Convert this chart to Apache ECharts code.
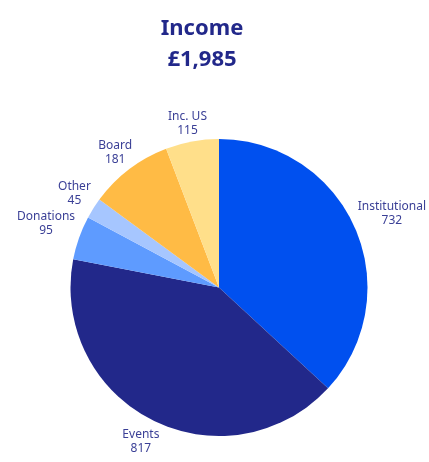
<!DOCTYPE html>
<html><head><meta charset="utf-8">
<script src="https://cdn.jsdelivr.net/npm/echarts@6/dist/echarts.min.js"></script>
<style>html,body{margin:0;padding:0;background:#fff}#c{width:429px;height:462px}</style>
</head><body><div id="c"></div>
<script>
const categories = ['Institutional', 'Events', 'Donations', 'Other', 'Board', 'Inc. US'];
const values = [732, 817, 95, 45, 181, 115];
const sliceColors = ['#0050EF', '#22288A', '#5E9BFF', '#A6C6FF', '#FFBB45', '#FFDF8A'];
const titleLines = ['Income', '£1,985'];

const chart = echarts.init(document.getElementById('c'), null, {renderer: 'canvas'});
const data = categories.map((c, i) => ({name: c, value: values[i], itemStyle: {color: sliceColors[i]}}));

chart.setOption({
  animation: false,
  graphic: [{
    type: 'text',
    x: 202, y: 13,
    style: {
      text: titleLines.join('\n'),
      align: 'center',
      verticalAlign: 'top',
      font: 'bold 22px "Noto Sans"',
      lineHeight: 31,
      fill: '#22288A'
    }
  }],
  series: [{
    type: 'pie',
    center: [219, 287.5],
    radius: 148.5,
    startAngle: 90,
    clockwise: true,
    avoidLabelOverlap: false,
    data: data,
    label: {
      show: true,
      position: 'outside',
      formatter: '{b}\n{c}',
      fontFamily: 'Noto Sans',
      fontSize: 12,
      lineHeight: 14,
      color: '#3A3F96',
      align: 'center'
    },
    labelLine: {show: true, length: 6, length2: 0, lineStyle: {opacity: 0, width: 0}},
    labelLayout: function (p) {
      const pts = p.labelLinePoints;
      if (!pts) return {};
      const e = pts[0], q = pts[1];
      let dx = q[0] - e[0], dy = q[1] - e[1];
      const n = Math.hypot(dx, dy) || 1; dx /= n; dy /= n;
      const w = p.labelRect.width, h = p.labelRect.height, gap = 6;
      return {
        x: e[0] + gap * dx + dx * w / 2,
        y: e[1] + gap * dy + Math.sign(dy) * h / 2 + 2,
        align: 'center',
        verticalAlign: 'middle'
      };
    },
    emphasis: {disabled: true}
  }]
});
</script>
</body></html>
